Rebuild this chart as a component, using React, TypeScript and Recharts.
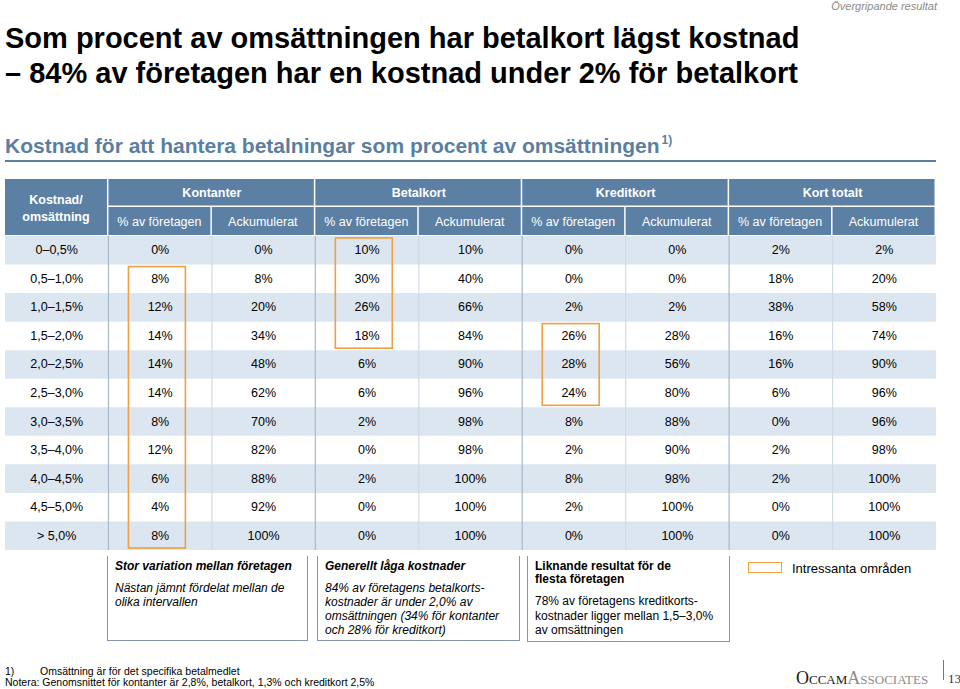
import React from 'react';
import {
  ScatterChart, Scatter, XAxis, YAxis, ReferenceArea, ReferenceLine,
} from 'recharts';

// rows and columns of the table
const rows = ['0–0,5%', '0,5–1,0%', '1,0–1,5%', '1,5–2,0%', '2,0–2,5%', '2,5–3,0%', '3,0–3,5%', '3,5–4,0%', '4,0–4,5%', '4,5–5,0%', '> 5,0%'];
const groups = ['Kontanter', 'Betalkort', 'Kreditkort', 'Kort totalt'];
const subCols = ['% av företagen', 'Ackumulerat'];

// values per column (percent)
const kontanterShare = [0, 8, 12, 14, 14, 14, 8, 12, 6, 4, 8];
const kontanterAcc = [0, 8, 20, 34, 48, 62, 70, 82, 88, 92, 100];
const betalShare = [10, 30, 26, 18, 6, 6, 2, 0, 2, 0, 0];
const betalAcc = [10, 40, 66, 84, 90, 96, 98, 98, 100, 100, 100];
const kreditShare = [0, 0, 2, 26, 28, 24, 8, 2, 8, 2, 0];
const kreditAcc = [0, 0, 2, 28, 56, 80, 88, 90, 98, 100, 100];
const kortShare = [2, 18, 38, 16, 16, 6, 0, 2, 2, 0, 0];
const kortAcc = [2, 20, 58, 74, 90, 96, 96, 98, 100, 100, 100];

// highlighted areas: [group, first row, last row]
const highlights: [string, string, string][] = [
  ['Kontanter', '0,5–1,0%', '> 5,0%'],
  ['Betalkort', '0–0,5%', '1,5–2,0%'],
  ['Kreditkort', '1,5–2,0%', '2,5–3,0%'],
];

const seriesByCol = [kontanterShare, kontanterAcc, betalShare, betalAcc, kreditShare, kreditAcc, kortShare, kortAcc];
const LABEL_COL = 'Kostnad/omsättning';
const colKeys = [LABEL_COL, ...groups.flatMap((g) => subCols.map((s) => `${g}|${s}`))];

const cells = rows.flatMap((r, ri) =>
  colKeys.map((c, ci) => ({
    col: c,
    row: r,
    text: ci === 0 ? r : `${seriesByCol[ci - 1][ri]}%`,
  })),
);

const FONT = '"Liberation Sans", Arial, Helvetica, sans-serif';
const HEAD_BG = '#5b80a4';
const ROW_BG = '#dce6f1';
const ORANGE = '#f0a040';
const BLUE_TEXT = '#5b7fa0';

const M_LEFT = 5;
const M_RIGHT = 24;
const BAND = (960 - M_LEFT - M_RIGHT) / colKeys.length;
const HEAD_TOP = 179;

const HeaderTick = (props: any) => {
  const { x, payload, index } = props;
  const key: string = payload.value;
  const left = x - BAND / 2;
  if (index === 0) {
    return (
      <g>
        <rect x={left} y={HEAD_TOP} width={BAND - 1.5} height={56} fill={HEAD_BG} />
        <text x={left + (BAND - 1.5) / 2} textAnchor="middle" fill="#fff" fontWeight="bold" fontSize={12.5} fontFamily={FONT}>
          <tspan x={left + (BAND - 1.5) / 2} y={203.5}>Kostnad/</tspan>
          <tspan x={left + (BAND - 1.5) / 2} y={220.5}>omsättning</tspan>
        </text>
      </g>
    );
  }
  const [group, sub] = key.split('|');
  const first = subCols.indexOf(sub) === 0;
  return (
    <g>
      {first && <rect x={left} y={HEAD_TOP} width={BAND * 2 - 1.5} height={26.5} fill={HEAD_BG} />}
      {first && (
        <text x={left + BAND} y={193} textAnchor="middle" dominantBaseline="central" fill="#fff" fontWeight="bold" fontSize={12.5} fontFamily={FONT}>
          {group}
        </text>
      )}
      <rect x={left} y={207} width={BAND - 1.5} height={28} fill={HEAD_BG} />
      <text x={left + (BAND - 1.5) / 2} y={221.5} textAnchor="middle" dominantBaseline="central" fill="#fff" fontSize={12.5} fontFamily={FONT}>
        {sub}
      </text>
    </g>
  );
};

const CellText = (props: any) => {
  const { cx, cy, payload } = props;
  return (
    <text x={cx} y={cy} textAnchor="middle" dominantBaseline="central" fill="#000" fontSize={12.5} fontFamily={FONT}>
      {payload.text}
    </text>
  );
};

const HighlightBox = (props: any) => {
  const { x, y, width, height } = props;
  return <rect x={x + 20} y={y + 2} width={width - 46.5} height={height - 4} fill="none" stroke={ORANGE} strokeWidth={1.6} />;
};

const abs = (left: number, top: number, extra: React.CSSProperties = {}): React.CSSProperties => ({
  position: 'absolute', left, top, whiteSpace: 'nowrap', ...extra,
});

const Callout = ({ left, width, bottom, children }: any) => (
  <div style={{
    position: 'absolute', left, top: 556, width, height: bottom - 556,
    borderLeft: '1.5px solid #8496ab', borderRight: '1.5px solid #8496ab', borderBottom: '1.5px solid #8496ab',
    boxSizing: 'border-box',
  }}>
    {children}
  </div>
);

export default function App() {
  return (
    <div style={{ position: 'absolute', left: 0, top: 0, width: 960, height: 689, background: '#fff', fontFamily: FONT, overflow: 'hidden' }}>
      <ScatterChart width={960} height={689} margin={{ top: HEAD_TOP, right: M_RIGHT, bottom: 139, left: M_LEFT }}>
        <XAxis
          dataKey="col"
          type="category"
          orientation="top"
          height={57}
          allowDuplicatedCategory={false}
          axisLine={false}
          tickLine={false}
          interval={0}
          tick={<HeaderTick />}
        />
        <YAxis dataKey="row" type="category" allowDuplicatedCategory={false} reversed hide />
        {rows.map((r, i) => (i % 2 === 0 ? (
          <ReferenceArea key={r} y1={r} y2={r} fill={ROW_BG} fillOpacity={1} stroke="none" />
        ) : null))}
        {colKeys.slice(1).map((c, i) => (
          <ReferenceLine key={c} x={c} position="start" stroke={i % 2 === 0 ? '#a9b9ca' : '#d2dbe5'} strokeWidth={1.2} />
        ))}
        <Scatter data={cells} shape={<CellText />} isAnimationActive={false} />
        {highlights.map(([g, from, to]) => (
          <ReferenceArea key={g} x1={`${g}|${subCols[0]}`} x2={`${g}|${subCols[0]}`} y1={from} y2={to} shape={<HighlightBox />} />
        ))}
      </ScatterChart>

      <div style={abs(0, 1, { width: 937, textAlign: 'right', fontSize: 11, fontStyle: 'italic', color: '#8a8a8a', lineHeight: '11px' })}>
        Övergripande resultat
      </div>
      <div style={abs(5, 20.5, { fontSize: 29, fontWeight: 'bold', lineHeight: '35px', color: '#000' })}>
        Som procent av omsättningen har betalkort lägst kostnad<br />
        – 84% av företagen har en kostnad under 2% för betalkort
      </div>
      <div style={abs(5, 135, { fontSize: 21, fontWeight: 'bold', lineHeight: '21px', color: BLUE_TEXT })}>
        Kostnad för att hantera betalningar som procent av omsättningen
        <span style={{ fontSize: 12, position: 'relative', top: -9, marginLeft: 2 }}>1)</span>
      </div>
      <div style={{ position: 'absolute', left: 5, top: 159.5, width: 931, height: 2, background: BLUE_TEXT }} />

      <Callout left={107} width={201} bottom={641}>
        <div style={abs(7, 3, { fontSize: 12, fontWeight: 'bold', fontStyle: 'italic', lineHeight: '14px' })}>Stor variation mellan företagen</div>
        <div style={abs(7, 25, { fontSize: 12, fontStyle: 'italic', lineHeight: '14px' })}>
          Nästan jämnt fördelat mellan de<br />olika intervallen
        </div>
      </Callout>
      <Callout left={317} width={203} bottom={641}>
        <div style={abs(7, 3, { fontSize: 12, fontWeight: 'bold', fontStyle: 'italic', lineHeight: '14px' })}>Generellt låga kostnader</div>
        <div style={abs(7, 25, { fontSize: 12, fontStyle: 'italic', lineHeight: '14px' })}>
          84% av företagens betalkorts-<br />kostnader är under 2,0% av<br />omsättningen (34% för kontanter<br />och 28% för kreditkort)
        </div>
      </Callout>
      <Callout left={527} width={203} bottom={642}>
        <div style={abs(7, 3.5, { fontSize: 12, fontWeight: 'bold', lineHeight: '13.5px' })}>
          Liknande resultat för de<br />flesta företagen
        </div>
        <div style={abs(7, 38, { fontSize: 12, lineHeight: '14.5px' })}>
          78% av företagens kreditkorts-<br />kostnader ligger mellan 1,5–3,0%<br />av omsättningen
        </div>
      </Callout>

      <div style={{ position: 'absolute', left: 748, top: 562, width: 34, height: 11, border: `1.6px solid ${ORANGE}`, boxSizing: 'border-box' }} />
      <div style={abs(792, 560.5, { fontSize: 13, lineHeight: '15px' })}>Intressanta områden</div>

      <div style={abs(5, 665.5, { fontSize: 10.5, lineHeight: '11px' })}>1)</div>
      <div style={abs(40, 665.5, { fontSize: 10.5, lineHeight: '11px' })}>Omsättning är för det specifika betalmedlet</div>
      <div style={abs(5, 677, { fontSize: 10.5, lineHeight: '11px' })}>
        Notera: Genomsnittet för kontanter är 2,8%, betalkort, 1,3% och kreditkort 2,5%
      </div>

      <div style={abs(796, 669, { fontFamily: '"Liberation Serif", "DejaVu Serif", serif', fontSize: 18, lineHeight: '18px', fontVariant: 'small-caps' })}>
        <span style={{ color: '#1a1a1a' }}>Occam</span>
        <span style={{ color: '#8c8c8c' }}>Associates</span>
      </div>
      <div style={{ position: 'absolute', left: 942.5, top: 660, width: 1, height: 20, background: '#777' }} />
      <div style={abs(948, 672, { fontFamily: '"Liberation Serif", serif', fontSize: 13, lineHeight: '13px', color: '#333' })}>13</div>
    </div>
  );
}
